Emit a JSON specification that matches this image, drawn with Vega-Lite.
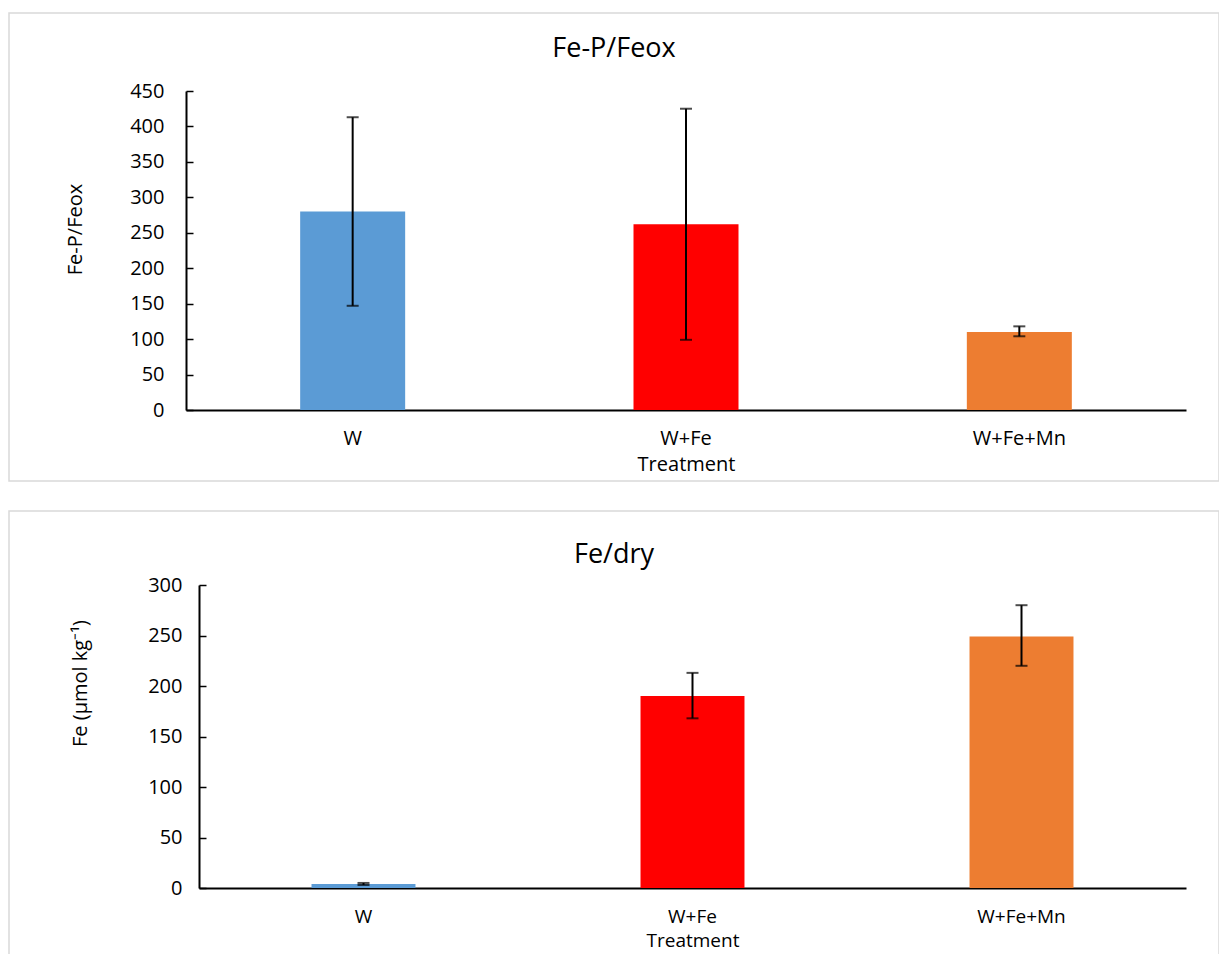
{
  "$schema": "https://vega.github.io/schema/vega-lite/v6.json",
  "padding": {"left": 8, "top": 12, "right": 0, "bottom": 0},
  "background": "white",
  "spacing": 28,
  "config": {
    "font": "Open Sans",
    "view": {"stroke": "#d9d9d9", "strokeWidth": 1.5},
    "axis": {"labelFont": "Open Sans", "titleFont": "Open Sans", "labelColor": "#000000", "titleColor": "#000000", "titleFontWeight": "normal", "grid": false, "domainColor": "#000000", "tickColor": "#000000", "domainWidth": 2, "tickWidth": 1.5},
    "title": {"font": "Open Sans", "fontWeight": "normal", "color": "#000000"}
  },
  "vconcat": [
    {
      "width": 1210,
      "height": 468,
      "title": {"text": "Fe-P/Feox", "fontSize": 27, "offset": -50, "anchor": "middle"},
      "data": {"values": [
        {"Treatment": "W", "mean": 280, "lo": 147, "hi": 413},
        {"Treatment": "W+Fe", "mean": 262, "lo": 99, "hi": 425},
        {"Treatment": "W+Fe+Mn", "mean": 110, "lo": 104, "hi": 118}
      ]},
      "encoding": {
        "x": {"field": "Treatment", "type": "nominal", "sort": ["W", "W+Fe", "W+Fe+Mn"],
          "scale": {"range": [177, 1177], "paddingInner": 0.685, "paddingOuter": 0.3425},
          "axis": {"title": "Treatment", "labelAngle": 0, "ticks": false, "offset": -71, "labelFontSize": 20, "titleFontSize": 20, "labelPadding": 18, "titlePadding": 6}}
      },
      "layer": [
        {"mark": {"type": "bar"},
          "encoding": {
            "y": {"field": "mean", "type": "quantitative", "title": "Fe-P/Feox",
              "scale": {"domain": [0, 450], "range": [397, 78], "nice": false},
              "axis": {"values": [0, 50, 100, 150, 200, 250, 300, 350, 400, 450], "offset": -177, "tickSize": -7, "labelPadding": 29, "labelFontSize": 20, "titleFontSize": 20, "titlePadding": 44, "titleY": 216}},
            "color": {"field": "Treatment", "type": "nominal", "legend": null,
              "scale": {"domain": ["W", "W+Fe", "W+Fe+Mn"], "range": ["#5B9BD5", "#FF0000", "#ED7D31"]}}
          }},
        {"mark": {"type": "rule", "color": "#000000", "strokeWidth": 2},
          "encoding": {"y": {"field": "lo", "type": "quantitative"}, "y2": {"field": "hi"}}},
        {"mark": {"type": "tick", "orient": "horizontal", "color": "#000000", "size": 12, "thickness": 2},
          "encoding": {"y": {"field": "lo", "type": "quantitative"}}},
        {"mark": {"type": "tick", "orient": "horizontal", "color": "#000000", "size": 12, "thickness": 2},
          "encoding": {"y": {"field": "hi", "type": "quantitative"}}}
      ]
    },
    {
      "width": 1210,
      "height": 468,
      "title": {"text": "Fe/dry", "fontSize": 27, "offset": -58, "anchor": "middle"},
      "data": {"values": [
        {"Treatment": "W", "mean": 4, "lo": 3, "hi": 5},
        {"Treatment": "W+Fe", "mean": 190, "lo": 168, "hi": 213},
        {"Treatment": "W+Fe+Mn", "mean": 249, "lo": 220, "hi": 280}
      ]},
      "encoding": {
        "x": {"field": "Treatment", "type": "nominal", "sort": ["W", "W+Fe", "W+Fe+Mn"],
          "scale": {"range": [190, 1177], "paddingInner": 0.684, "paddingOuter": 0.342},
          "axis": {"title": "Treatment", "labelAngle": 0, "ticks": false, "offset": -91, "labelFontSize": 19, "titleFontSize": 19, "labelPadding": 19, "titlePadding": 5}}
      },
      "layer": [
        {"mark": {"type": "bar"},
          "encoding": {
            "y": {"field": "mean", "type": "quantitative", "title": "Fe (μmol kg⁻¹)",
              "scale": {"domain": [0, 300], "range": [377, 74], "nice": false},
              "axis": {"values": [0, 50, 100, 150, 200, 250, 300], "offset": -190, "tickSize": -7, "labelPadding": 24, "labelFontSize": 20, "titleFontSize": 20, "titlePadding": 57, "titleY": 172}},
            "color": {"field": "Treatment", "type": "nominal", "legend": null,
              "scale": {"domain": ["W", "W+Fe", "W+Fe+Mn"], "range": ["#5B9BD5", "#FF0000", "#ED7D31"]}}
          }},
        {"mark": {"type": "rule", "color": "#000000", "strokeWidth": 2},
          "encoding": {"y": {"field": "lo", "type": "quantitative"}, "y2": {"field": "hi"}}},
        {"mark": {"type": "tick", "orient": "horizontal", "color": "#000000", "size": 12, "thickness": 2},
          "encoding": {"y": {"field": "lo", "type": "quantitative"}}},
        {"mark": {"type": "tick", "orient": "horizontal", "color": "#000000", "size": 12, "thickness": 2},
          "encoding": {"y": {"field": "hi", "type": "quantitative"}}}
      ]
    }
  ]
}
